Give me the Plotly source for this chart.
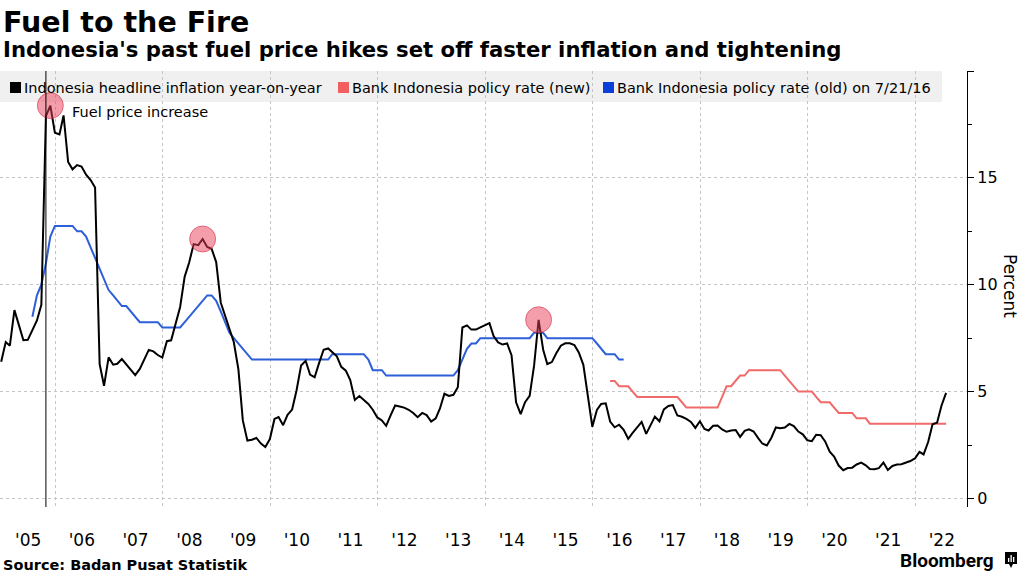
import pandas as pd
import plotly.graph_objects as go

# ---------------- data ----------------
# Indonesia headline CPI inflation, y/y %, monthly Dec 2004 .. Jul 2022
inflation = [
    6.40,
    7.32, 7.15, 8.81, 8.12, 7.40, 7.42, 7.84, 8.33, 9.06, 17.89, 18.38, 17.11,   # 2005
    17.03, 17.92, 15.74, 15.40, 15.60, 15.53, 15.15, 14.90, 14.55, 6.29, 5.27, 6.60,  # 2006
    6.26, 6.30, 6.52, 6.29, 6.01, 5.77, 6.06, 6.51, 6.95, 6.88, 6.71, 6.59,   # 2007
    7.36, 7.40, 8.17, 8.96, 10.38, 11.03, 11.90, 11.85, 12.14, 11.77, 11.68, 11.06,  # 2008
    9.17, 8.60, 7.92, 7.31, 6.04, 3.65, 2.71, 2.75, 2.83, 2.57, 2.41, 2.78,   # 2009
    3.72, 3.81, 3.43, 3.91, 4.16, 5.05, 6.22, 6.44, 5.80, 5.67, 6.33, 6.96,   # 2010
    7.02, 6.84, 6.65, 6.16, 5.98, 5.54, 4.61, 4.79, 4.61, 4.42, 4.15, 3.79,   # 2011
    3.65, 3.40, 3.90, 4.35, 4.30, 4.25, 4.15, 4.00, 3.80, 4.00, 3.90, 3.60,   # 2012
    3.75, 4.20, 4.90, 4.80, 4.85, 5.20, 8.00, 8.10, 7.90, 7.90, 8.00, 8.10,   # 2013
    8.20, 7.60, 7.30, 7.20, 7.25, 6.70, 4.50, 3.95, 4.50, 4.80, 6.20, 8.36,   # 2014
    6.96, 6.29, 6.38, 6.79, 7.15, 7.26, 7.26, 7.18, 6.83, 6.25, 4.89, 3.35,   # 2015
    4.14, 4.42, 4.45, 3.60, 3.33, 3.45, 3.21, 2.79, 3.07, 3.31, 3.58, 3.02,   # 2016
    3.49, 3.83, 3.61, 4.17, 4.33, 4.37, 3.88, 3.82, 3.72, 3.58, 3.30, 3.61,   # 2017
    3.25, 3.18, 3.40, 3.41, 3.23, 3.12, 3.18, 3.20, 2.88, 3.16, 3.23, 3.13,   # 2018
    2.82, 2.57, 2.48, 2.83, 3.32, 3.28, 3.32, 3.49, 3.39, 3.13, 3.00, 2.72,   # 2019
    2.68, 2.98, 2.96, 2.67, 2.19, 1.96, 1.54, 1.32, 1.42, 1.44, 1.59, 1.68,   # 2020
    1.55, 1.38, 1.37, 1.42, 1.68, 1.33, 1.52, 1.59, 1.60, 1.66, 1.75, 1.87,   # 2021
    2.18, 2.06, 2.64, 3.47, 3.55, 4.35, 4.94,                                 # 2022
]
inflation_start = "2004-12"

# Bank Indonesia policy rate (old BI rate), Jul 2005 .. Jul 2016
rate_old = [
    8.50, 9.50, 10.00, 11.00, 12.25, 12.75,                                   # 2005 H2
    12.75, 12.75, 12.75, 12.75, 12.50, 12.50, 12.25, 11.75, 11.25, 10.75, 10.25, 9.75,
    9.50, 9.25, 9.00, 9.00, 8.75, 8.50, 8.25, 8.25, 8.25, 8.25, 8.25, 8.00,
    8.00, 8.00, 8.00, 8.00, 8.25, 8.50, 8.75, 9.00, 9.25, 9.50, 9.50, 9.25,
    8.75, 8.25, 7.75, 7.50, 7.25, 7.00, 6.75, 6.50, 6.50, 6.50, 6.50, 6.50,
    6.50, 6.50, 6.50, 6.50, 6.50, 6.50, 6.50, 6.50, 6.50, 6.50, 6.50, 6.50,
    6.50, 6.75, 6.75, 6.75, 6.75, 6.75, 6.75, 6.75, 6.75, 6.50, 6.00, 6.00,
    6.00, 5.75, 5.75, 5.75, 5.75, 5.75, 5.75, 5.75, 5.75, 5.75, 5.75, 5.75,
    5.75, 5.75, 5.75, 5.75, 5.75, 6.00, 6.50, 7.00, 7.25, 7.25, 7.50, 7.50,
    7.50, 7.50, 7.50, 7.50, 7.50, 7.50, 7.50, 7.50, 7.50, 7.50, 7.75, 7.75,
    7.75, 7.50, 7.50, 7.50, 7.50, 7.50, 7.50, 7.50, 7.50, 7.50, 7.50, 7.50,
    7.25, 7.00, 6.75, 6.75, 6.75, 6.50, 6.50,
]
rate_old_start = "2005-07"

# Bank Indonesia policy rate (new 7-day reverse repo), Apr 2016 .. Jul 2022
rate_new = [
    5.50, 5.50, 5.25, 5.25, 5.25, 5.00, 4.75, 4.75, 4.75,                     # 2016
    4.75, 4.75, 4.75, 4.75, 4.75, 4.75, 4.75, 4.50, 4.25, 4.25, 4.25, 4.25,   # 2017
    4.25, 4.25, 4.25, 4.25, 4.75, 5.25, 5.25, 5.50, 5.75, 5.75, 6.00, 6.00,   # 2018
    6.00, 6.00, 6.00, 6.00, 6.00, 6.00, 5.75, 5.50, 5.25, 5.00, 5.00, 5.00,   # 2019
    5.00, 4.75, 4.50, 4.50, 4.50, 4.25, 4.00, 4.00, 4.00, 4.00, 3.75, 3.75,   # 2020
    3.75, 3.50, 3.50, 3.50, 3.50, 3.50, 3.50, 3.50, 3.50, 3.50, 3.50, 3.50,   # 2021
    3.50, 3.50, 3.50, 3.50, 3.50, 3.50, 3.50,                                 # 2022
]
rate_new_start = "2016-04"

fuel_hike_peaks = ["2005-11", "2008-09", "2014-12"]
fuel_hike_line_date = "2005-10"
years = list(range(2005, 2023))
year_labels = ["'%02d" % (y % 100) for y in years]

series_names = ["Indonesia headline inflation year-on-year",
                "Bank Indonesia policy rate (new)",
                "Bank Indonesia policy rate (old) on 7/21/16"]


def month_ends(start, n):
    return pd.date_range(start + "-01", periods=n, freq="MS") + pd.offsets.MonthEnd(0)


x_inf = month_ends(inflation_start, len(inflation))
x_old = month_ends(rate_old_start, len(rate_old))
x_new = month_ends(rate_new_start, len(rate_new))
inf_s = pd.Series(inflation, index=x_inf)
peak_x = [pd.Timestamp(d + "-01") + pd.offsets.MonthEnd(0) for d in fuel_hike_peaks]
peak_y = [inf_s[d] for d in peak_x]
vline_x = pd.Timestamp(fuel_hike_line_date + "-01") + pd.offsets.MonthEnd(0)

# ---------------- style ----------------
BLACK = "#000000"
RED = "#f06a6a"
BLUE = "#2d5fd8"
RED_SQ = "#f25f5f"
BLUE_SQ = "#0b40d8"
GRID = "#c4c4c4"
FONT = "DejaVu Sans"

# plot area in pixels
L, R, T, B = 0, 967, 71, 507
W, H = R - L, B - T


def px(x):
    return (x - L) / W


def py(y):
    return (B - y) / H


fig = go.Figure()
fig.add_trace(go.Scatter(x=x_old, y=rate_old, mode="lines", name=series_names[2],
                         line=dict(color=BLUE, width=2), hoverinfo="skip"))
fig.add_trace(go.Scatter(x=x_new, y=rate_new, mode="lines", name=series_names[1],
                         line=dict(color=RED, width=2), hoverinfo="skip"))
fig.add_trace(go.Scatter(x=x_inf, y=inflation, mode="lines", name=series_names[0],
                         line=dict(color=BLACK, width=2), hoverinfo="skip"))
fig.add_trace(go.Scatter(x=peak_x, y=peak_y, mode="markers", name="Fuel price increase",
                         marker=dict(size=26, color="rgba(236,62,88,0.5)",
                                     line=dict(color="rgba(210,45,70,0.6)", width=1)),
                         hoverinfo="skip"))

shapes = []
# legend background
shapes.append(dict(type="rect", xref="paper", yref="paper", x0=px(0), x1=px(942),
                   y0=py(102), y1=py(71), fillcolor="#f0f0f0", line=dict(width=0),
                   layer="below"))
# legend squares
for x0, col in [(10, BLACK), (338, RED_SQ), (603, BLUE_SQ)]:
    shapes.append(dict(type="rect", xref="paper", yref="paper", x0=px(x0), x1=px(x0 + 11),
                       y0=py(93), y1=py(82), fillcolor=col, line=dict(width=0)))
# vertical line for first fuel price hike
shapes.append(dict(type="line", xref="x", yref="paper", x0=vline_x, x1=vline_x,
                   y0=0, y1=1, line=dict(color=BLACK, width=1)))
# Bloomberg logo icon
shapes.append(dict(type="path", xref="paper", yref="paper",
                   path=("M {a},{b} L {c},{b} L {c},{d} L {e},{d} L {f},{g} L {h},{d} L {a},{d} Z"
                         .format(a=px(1005), b=py(552), c=px(1017), d=py(564),
                                 e=px(1013), f=px(1011), g=py(568), h=px(1009))),
                   fillcolor=BLACK, line=dict(width=0)))
for bx, top in [(1008, 558), (1010.5, 555), (1013, 557)]:
    shapes.append(dict(type="rect", xref="paper", yref="paper", x0=px(bx), x1=px(bx + 1.3),
                       y0=py(562), y1=py(top), fillcolor="white", line=dict(width=0)))

annotations = []


def text(x, y, s, size, xanchor="left", family=FONT, color=BLACK, **kw):
    annotations.append(dict(x=px(x), y=py(y), xref="paper", yref="paper", text=s,
                            showarrow=False, xanchor=xanchor, yanchor="middle",
                            font=dict(family=family, size=size, color=color), **kw))


text(1, 22, "<b>Fuel to the Fire</b>", 28.5)
text(1, 50, "<b>Indonesia's past fuel price hikes set off faster inflation and tightening</b>", 21.2)
text(22, 88, series_names[0], 14.5)
text(350, 88, series_names[1], 14.5)
text(615, 88, series_names[2], 14.5)
text(70, 112, "Fuel price increase", 14.5)
text(1, 565, "<b>Source: Badan Pusat Statistik</b>", 14.5)
text(996, 560, "<b>Bloomberg</b>", 19, xanchor="right", family="Roboto")
text(1010, 286, "Percent", 17, xanchor="center", textangle=90)

fig.update_layout(
    width=1024, height=576,
    margin=dict(l=L, r=1024 - R, t=T, b=576 - B, pad=0),
    paper_bgcolor="white", plot_bgcolor="rgba(0,0,0,0)",
    showlegend=False,
    shapes=shapes, annotations=annotations,
    font=dict(family=FONT, color=BLACK),
    xaxis=dict(type="date", range=["2004-12-23", "2022-12-20"],
               tickmode="array", tickvals=[f"{y}-07-02" for y in years], ticktext=year_labels,
               showgrid=False, zeroline=False, showline=False,
               ticks="outside", ticklen=18, tickcolor="rgba(0,0,0,0)",
               tickfont=dict(family=FONT, size=17, color=BLACK),
               minor=dict(tickmode="array", tickvals=[f"{y}-01-01" for y in range(2006, 2023, 2)],
                          showgrid=True, gridcolor=GRID, griddash="dot", gridwidth=1, ticks="")),
    yaxis=dict(side="right", range=[-0.4, 20],
               tickmode="array", tickvals=[0, 5, 10, 15, 20], ticktext=["0", "5", "10", "15", ""],
               ticks="outside", ticklen=6, tickwidth=1, tickcolor=BLACK,
               showline=True, linecolor=BLACK, linewidth=1.3,
               showgrid=True, gridcolor=GRID, griddash="dot", gridwidth=1, zeroline=False,
               tickfont=dict(family=FONT, size=16, color=BLACK),
               minor=dict(tickmode="linear", tick0=0, dtick=2.5, ticks="outside", ticklen=4,
                          tickcolor=BLACK, showgrid=False)),
)

fig.write_html("out.html")
